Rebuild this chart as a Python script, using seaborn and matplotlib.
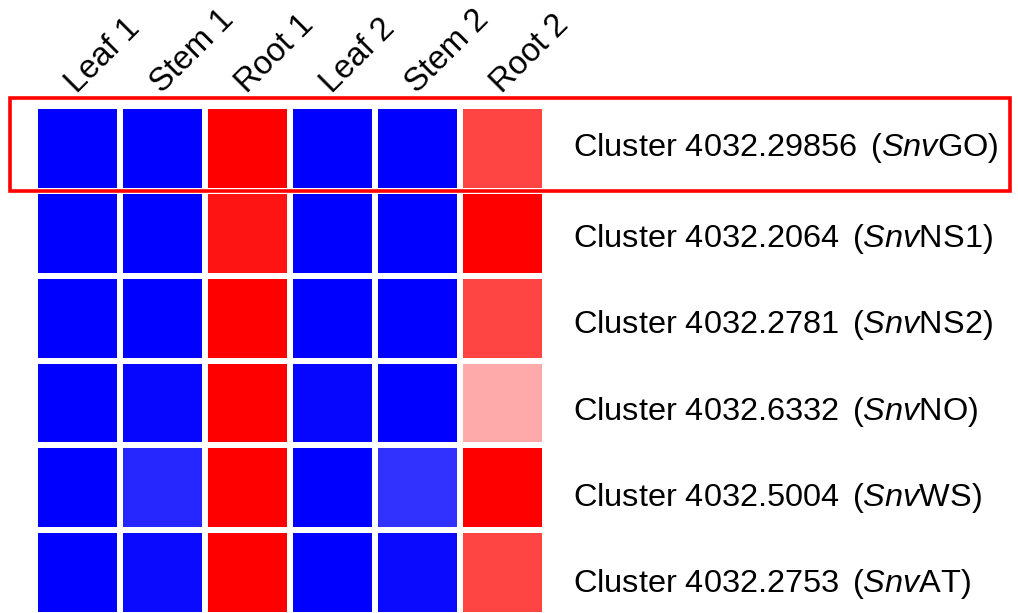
import numpy as np
import pandas as pd
import matplotlib
matplotlib.use("Agg")
import matplotlib.pyplot as plt
from matplotlib.patches import Rectangle
from matplotlib.transforms import ScaledTranslation
import seaborn as sns

# Relative expression per tissue (row-scaled, -1 = lowest, 1 = highest)
tissues = ["Leaf 1", "Stem 1", "Root 1", "Leaf 2", "Stem 2", "Root 2"]
cluster_ids = ["4032.29856", "4032.2064", "4032.2781", "4032.6332", "4032.5004", "4032.2753"]
gene_names = ["GO", "NS1", "NS2", "NO", "WS", "AT"]

expr_go  = [-1.00, -1.00, 1.00, -1.00, -1.00, 0.73]
expr_ns1 = [-1.00, -1.00, 0.92, -1.00, -1.00, 1.00]
expr_ns2 = [-1.00, -1.00, 1.00, -1.00, -1.00, 0.73]
expr_no  = [-1.00, -0.97, 1.00, -0.97, -1.00, 0.33]
expr_ws  = [-1.00, -0.85, 1.00, -1.00, -0.80, 1.00]
expr_at  = [-1.00, -0.96, 1.00, -1.00, -0.96, 0.73]

highlight_row = 0

sns.set_theme(style="white")
plt.rcParams["font.family"] = ["Liberation Sans", "DejaVu Sans"]
plt.rcParams["mathtext.fontset"] = "custom"
plt.rcParams["mathtext.rm"] = "Liberation Sans"
plt.rcParams["mathtext.it"] = "Liberation Sans:italic"

row_labels = [rf"Cluster {cid} $\,$($\mathit{{Snv}}$" + f"{g})" for cid, g in zip(cluster_ids, gene_names)]
data = pd.DataFrame(
    [expr_go, expr_ns1, expr_ns2, expr_no, expr_ws, expr_at],
    index=row_labels, columns=tissues,
)

W, H, DPI = 1018, 613, 100
fig = plt.figure(figsize=(W / DPI, H / DPI), dpi=DPI)
ax = fig.add_axes([35 / W, (H - 615) / H, 510 / W, 509 / H])

sns.heatmap(
    data, ax=ax, cmap="bwr", vmin=-1, vmax=1, cbar=False,
    linewidths=2.9, linecolor="white", square=False,
)

# Tissue names on top, rotated
ax.xaxis.tick_top()
ax.set_xticklabels(tissues, rotation=45, ha="left", va="bottom",
                   rotation_mode="anchor", fontsize=23.5, color="black")
ax.tick_params(axis="x", length=0, pad=8)
for lab in ax.get_xticklabels():
    lab.set_transform(lab.get_transform() + ScaledTranslation(0.045, -0.04, fig.dpi_scale_trans))

# Gene labels to the right
ax.yaxis.tick_right()
ax.set_yticklabels(row_labels, rotation=0, ha="left", va="center",
                   fontsize=23.4, color="black")
ax.tick_params(axis="y", length=0, pad=20)
label_nudge_px = [0, -6, -7, -9, -10, -11]
for lab, dy in zip(ax.get_yticklabels(), label_nudge_px):
    lab.set_transform(lab.get_transform() + ScaledTranslation(0, dy / DPI, fig.dpi_scale_trans))
ax.set_xlabel("")
ax.set_ylabel("")

# Box around the highlighted gene row, spanning the label
ax.add_patch(Rectangle((-0.29, highlight_row - 0.1), 11.76, 1.1,
                       fill=False, edgecolor="#ff0000", linewidth=2.6,
                       clip_on=False, zorder=5))

fig.savefig("out.png", dpi=DPI)
